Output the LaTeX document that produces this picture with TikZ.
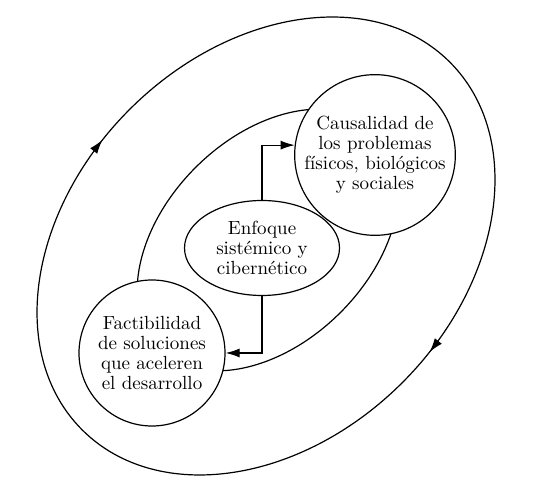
\documentclass[tikz,border=0pt]{standalone}
\usepackage{tikz}
\usetikzlibrary{shapes.geometric, arrows.meta, positioning, calc, decorations.markings}
\tikzset{
    topic/.style={circle, draw, line width=0.6pt, fill=white, minimum size=73pt, inner sep=0pt, align=center, font=\fontsize{9.5}{10}\selectfont},
    core/.style={ellipse, draw, line width=0.6pt, fill=white, minimum width=77.5pt, minimum height=47.5pt, inner sep=0pt, align=center, font=\fontsize{9.5}{10}\selectfont},
    loop/.style={line width=0.6pt},
    arrow/.style={-{Latex[length=7pt, width=4.5pt]}, line width=0.6pt},
    cycle arrows/.style={postaction={decorate}, decoration={markings,
        mark=at position 0.2785 with {\arrowreversed{Latex[length=7pt, width=4.5pt]}},
        mark=at position 0.7785 with {\arrowreversed{Latex[length=7pt, width=4.5pt]}}}}
}
\begin{document}
\begin{tikzpicture}[x=0.5pt, y=0.5pt]
    \useasboundingbox (0, 0) rectangle (549, 480);

    % Outer cycle
    \draw[loop, cycle arrows, rotate around={45:(266, 234)}] (266, 234) ellipse [x radius=260, y radius=193];

    % Inner cycle
    \draw[loop, rotate around={45:(268, 240)}] (268, 240) ellipse [x radius=154, y radius=102.5];

    % Nodes
    \node[topic] (causa) at (375, 325) {Causalidad de\\los problemas\\físicos, biológicos\\y sociales};
    \node[topic] (facti) at (152, 127) {Factibilidad\\de soluciones\\que aceleren\\el desarrollo};
    \node[core] (enfoque) at (262, 232) {Enfoque\\sistémico y\\cibernético};

    % Connections
    \draw[arrow] (enfoque.north) |- (causa.173);
    \draw[arrow] (enfoque.south) |- (facti.east);
\end{tikzpicture}
\end{document}
